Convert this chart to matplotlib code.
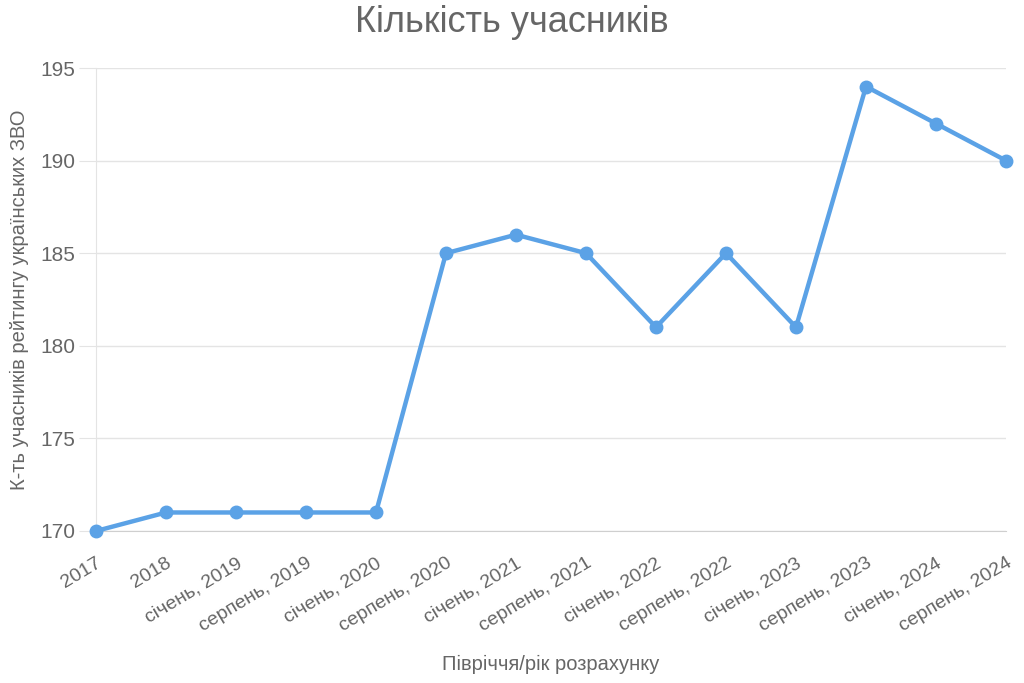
import matplotlib
matplotlib.use("Agg")
import matplotlib.pyplot as plt
from matplotlib.transforms import ScaledTranslation

plt.rcParams['font.family'] = ['Liberation Sans', 'DejaVu Sans']

labels = ["2017", "2018", "січень, 2019", "серпень, 2019", "січень, 2020",
          "серпень, 2020", "січень, 2021", "серпень, 2021", "січень, 2022",
          "серпень, 2022", "січень, 2023", "серпень, 2023", "січень, 2024",
          "серпень, 2024"]
values = [170, 171, 171, 171, 171, 185, 186, 185, 181, 185, 181, 194, 192, 190]
y_ticks = [170, 175, 180, 185, 190, 195]

txt = "#666666"
grid = "#e4e4e4"
blue = "#5ba2e6"

fig = plt.figure(figsize=(10.24, 6.83), dpi=100)
ax = fig.add_axes([96 / 1024, 1 - 531 / 683, 910 / 1024, 463 / 683])

x = list(range(len(values)))
ax.plot(x, values, color=blue, lw=3.2, marker="o", ms=9, clip_on=False, zorder=3)

ax.set_xlim(0, len(values) - 1)
ax.set_ylim(170, 195)
ax.set_yticks(y_ticks)
ax.set_xticks(x)
ax.set_xticklabels(labels, rotation=31, ha="right", rotation_mode="anchor")
shift = ScaledTranslation(-5 / 100, 0, fig.dpi_scale_trans)
for lab in ax.get_xticklabels():
    lab.set_transform(lab.get_transform() + shift)

ax.grid(axis="y", color=grid, lw=1)
ax.set_axisbelow(True)
for s in ["top", "right"]:
    ax.spines[s].set_visible(False)
ax.spines["left"].set_color(grid)
ax.spines["bottom"].set_color("#cfcfcf")
ax.tick_params(axis="y", length=12, color=grid, labelsize=15, labelcolor=txt, pad=3)
ax.tick_params(axis="x", length=0, labelsize=14, labelcolor=txt, pad=17)

ax.set_ylabel("К-ть учасників рейтингу українських ЗВО", fontsize=14.5, color=txt, labelpad=8)
ax.set_xlabel("Півріччя/рік розрахунку", fontsize=14.5, color=txt, labelpad=14)
fig.text(0.5, 1 - 22 / 683, "Кількість учасників", ha="center", va="center",
         fontsize=26, color=txt)

fig.savefig("out.png", dpi=100)
